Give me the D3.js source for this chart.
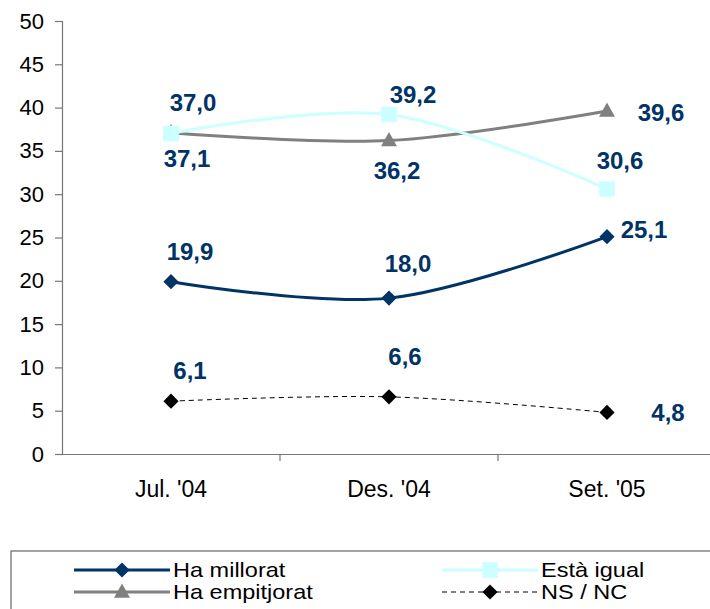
<!DOCTYPE html>
<html><head><meta charset="utf-8">
<script src="https://cdn.jsdelivr.net/npm/d3@7"></script>
<style>
html,body{margin:0;padding:0;background:#fff;}
svg{display:block;font-family:"Liberation Sans",Arial,sans-serif;}
</style></head>
<body>
<svg id="c" width="710" height="609"></svg>
<script>
const categories = ["Jul. '04", "Des. '04", "Set. '05"];
const haMillorat = [19.9, 18.0, 25.1];
const estaIgual = [37.0, 39.2, 30.6];
const haEmpitjorat = [37.1, 36.2, 39.6];
const nsNc = [6.1, 6.6, 4.8];
const yTicks = [0, 5, 10, 15, 20, 25, 30, 35, 40, 45, 50];
const seriesNames = ["Ha millorat", "Està igual", "Ha empitjorat", "NS / NC"];

// label offsets relative to each point [dx, dy]
const labelOffsets = {
  "Ha millorat": [[19,-30],[19,-35],[37,-7]],
  "Està igual": [[22,-31],[24,-20],[13,-29]],
  "Ha empitjorat": [[16,26],[8,30],[54,1]],
  "NS / NC": [[19,-31],[16,-40],[61,0]]
};

const series = [
  {name: seriesNames[0], values: haMillorat, color: "#003366", width: 3, dash: null, marker: "diamond", mcolor: "#003366", msize: 150},
  {name: seriesNames[1], values: estaIgual, color: "#CCFFFF", width: 3, dash: null, marker: "square", mcolor: "#CCFFFF", msize: 200},
  {name: seriesNames[2], values: haEmpitjorat, color: "#808080", width: 3, dash: null, marker: "triangle", mcolor: "#808080", msize: 150},
  {name: seriesNames[3], values: nsNc, color: "#000000", width: 1, dash: "5,4", marker: "diamond", mcolor: "#000000", msize: 150}
];

const svg = d3.select("#c");
const x0 = 62, x1 = 716, yTop = 21, yBot = 454;
const x = d3.scaleBand().domain(categories).range([x0, x1]);
const y = d3.scaleLinear().domain([0, 50]).range([yBot, yTop]);
const cx = c => x(c) + x.bandwidth() / 2;

// Y axis
const yAxis = svg.append("g").attr("transform", `translate(${x0},0)`)
  .call(d3.axisLeft(y).tickValues(yTicks).tickSize(7).tickPadding(11).tickFormat(d3.format("d")));
yAxis.select(".domain").attr("stroke", "#777").attr("stroke-width", 1.2);
yAxis.selectAll(".tick line").attr("stroke", "#777").attr("stroke-width", 1.2);
yAxis.selectAll("text").attr("font-size", 22).attr("fill", "#000")
  .attr("font-family", "Liberation Sans, Arial, sans-serif");

// X axis
const xAxis = svg.append("g").attr("transform", `translate(0,${yBot})`)
  .call(d3.axisBottom(x).tickSize(0).tickPadding(27));
xAxis.select(".domain").attr("stroke", "#777").attr("stroke-width", 1.2);
xAxis.selectAll("text").attr("font-size", 23).attr("fill", "#000")
  .attr("font-family", "Liberation Sans, Arial, sans-serif");
// boundary ticks between categories
svg.append("g").selectAll("line").data(categories.slice(1)).join("line")
  .attr("x1", d => x(d)).attr("x2", d => x(d))
  .attr("y1", yBot).attr("y2", yBot + 7)
  .attr("stroke", "#777").attr("stroke-width", 1.2);

const line = d3.line().x((d, i) => cx(categories[i])).y(d => y(d)).curve(d3.curveCardinal.tension(0));

function sym(m, size) {
  if (m === "diamond") {
    const r = Math.sqrt(size) * 0.62;
    return `M0,${-r}L${r},0L0,${r}L${-r},0Z`;
  }
  if (m === "triangle") {
    const w = Math.sqrt(size) * 0.65, h = w * 1.8;
    return `M0,${-h*0.6}L${w},${h*0.4}L${-w},${h*0.4}Z`;
  }
  const s = Math.sqrt(size) / 2 * 1.1;
  return `M${-s},${-s}H${s}V${s}H${-s}Z`;
}

const order = [3, 0, 2, 1];
order.forEach(k => {
  const s = series[k];
  svg.append("path").datum(s.values).attr("d", line)
    .attr("fill", "none").attr("stroke", s.color).attr("stroke-width", s.width)
    .attr("stroke-dasharray", s.dash);
  svg.append("g").selectAll("path").data(s.values).join("path")
    .attr("transform", (d, i) => `translate(${cx(categories[i])},${y(d)})`)
    .attr("d", sym(s.marker, s.msize)).attr("fill", s.mcolor);
});

// data labels
series.forEach(s => {
  svg.append("g").selectAll("text").data(s.values).join("text")
    .attr("x", (d, i) => cx(categories[i]) + labelOffsets[s.name][i][0])
    .attr("y", (d, i) => y(d) + labelOffsets[s.name][i][1])
    .attr("text-anchor", "middle").attr("dominant-baseline", "central")
    .attr("font-size", 24).attr("font-weight", "bold").attr("fill", "#003366")
    .text(d => d3.format(".1f")(d).replace(".", ","));
});

// legend
const lg = svg.append("g");
lg.append("rect").attr("x", 11).attr("y", 551).attr("width", 720).attr("height", 80)
  .attr("fill", "#fff").attr("stroke", "#666").attr("stroke-width", 1.2);
const legPos = [[74, 570], [442, 570], [74, 592], [442, 592]];
const legOrder = [0, 1, 2, 3];
legOrder.forEach((k, j) => {
  const s = series[k];
  const [lx, ly] = legPos[j];
  const len = 96;
  lg.append("line").attr("x1", lx).attr("x2", lx + len).attr("y1", ly).attr("y2", ly)
    .attr("stroke", s.color).attr("stroke-width", s.width).attr("stroke-dasharray", s.dash);
  lg.append("path").attr("transform", `translate(${lx + len / 2},${ly})`)
    .attr("d", sym(s.marker, s.msize)).attr("fill", s.mcolor);
  lg.append("text").attr("transform", `translate(${lx + len + 3},${ly}) scale(1.12,1)`)
    .attr("dominant-baseline", "central")
    .attr("font-size", 21).attr("fill", "#000").text(s.name);
});
</script>
</body></html>
